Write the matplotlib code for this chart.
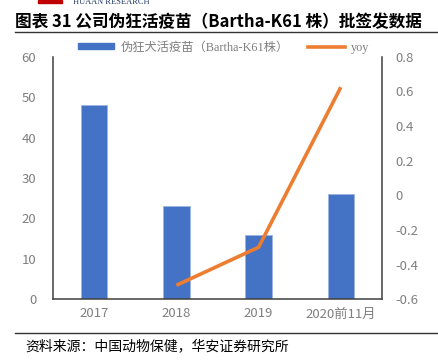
import matplotlib
matplotlib.use("Agg")
import matplotlib.pyplot as plt
from matplotlib.lines import Line2D
from matplotlib.patches import Patch, Rectangle
import numpy as np

categories = ["2017", "2018", "2019", "2020前11月"]
batches = [48, 23, 16, 26]
yoy_cats = ["2018", "2019", "2020前11月"]
yoy = [-0.52, -0.30, 0.625]

left_ticks = [0, 10, 20, 30, 40, 50, 60]
right_ticks = [-0.6, -0.4, -0.2, 0, 0.2, 0.4, 0.6, 0.8]
right_labels = ["-0.6", "-0.4", "-0.2", "0", "0.2", "0.4", "0.6", "0.8"]

title = "图表 31 公司伪狂活疫苗（Bartha-K61 株）批签发数据"
bar_label = "伪狂犬活疫苗（Bartha-K61株）"
line_label = "yoy"
source = "资料来源：中国动物保健，华安证券研究所"

CJK = ["Noto Sans CJK SC", "DejaVu Sans"]
plt.rcParams['font.family'] = CJK

fig = plt.figure(figsize=(4.38, 3.6), dpi=100)
ax = fig.add_axes([0.121, 0.169, 0.751, 0.673])
ax2 = ax.twinx()

x = np.arange(len(categories))
blue = "#4472C4"
orange = "#ED7D31"
gray = "#7F7F7F"

ax.bar(x, batches, width=0.32, color=blue, edgecolor="#9DB5E0", linewidth=0.6, zorder=2)
xi = [categories.index(c) for c in yoy_cats]
ax2.plot(xi, yoy, color=orange, linewidth=2.6, solid_capstyle="butt", zorder=3)

ax.set_xlim(-0.5, len(categories) - 0.5)
ax.set_ylim(0, 60)
ax2.set_ylim(-0.6, 0.8)
ax.set_yticks(left_ticks)
ax2.set_yticks(right_ticks)
ax2.set_yticklabels(right_labels)
ax.set_xticks(x)
ax.set_xticklabels(categories)

for a in (ax, ax2):
    a.tick_params(length=0, labelsize=9.5, labelcolor=gray)
    for s in a.spines.values():
        s.set_visible(False)
ax.tick_params(axis='y', pad=12)
ax2.tick_params(axis='y', pad=10)
ax.tick_params(axis='x', pad=6)
ax.spines['left'].set_visible(True)
ax.spines['bottom'].set_visible(True)
ax2.spines['right'].set_visible(True)
for s in (ax.spines['left'], ax.spines['bottom'], ax2.spines['right']):
    s.set_color("#404040")
    s.set_linewidth(1.1)

handles = [Patch(facecolor=blue, edgecolor=blue), Line2D([0], [0], color=orange, linewidth=2.6)]
leg = fig.legend(handles, [bar_label, line_label], loc="center", bbox_to_anchor=(0.51, 0.868),
                 ncol=2, frameon=False, handlelength=3.0, handleheight=0.45,
                 columnspacing=1.6, handletextpad=0.5,
                 prop={'family': ["Liberation Serif", "Noto Sans CJK SC"], 'size': 8.8})
for t in leg.get_texts():
    t.set_color(gray)

# header
fig.text(15 / 438, 1 - 22 / 360, title, fontsize=12, fontweight="bold", va="center", ha="left",
         family=CJK, color="#000000")
fig.add_artist(Line2D([15 / 438, 1], [1 - 32 / 360] * 2, color="#333333", linewidth=1.0))
fig.add_artist(Rectangle((38 / 438, 1 - 2.5 / 360), 24 / 438, 2.5 / 360, color="#C00000",
                         transform=fig.transFigure))
fig.text(73 / 438, 1 - 2.5 / 360, "HUAAN RESEARCH", fontsize=6, family="Liberation Serif",
         color="#1F3864", va="center", ha="left")

# footer
fig.add_artist(Line2D([15 / 438, 1], [1 - 333 / 360] * 2, color="#333333", linewidth=1.0))
fig.text(25 / 438, 1 - 346 / 360, source, fontsize=10, va="center", ha="left", family=CJK,
         color="#000000")

fig.savefig("out.png", dpi=100)
